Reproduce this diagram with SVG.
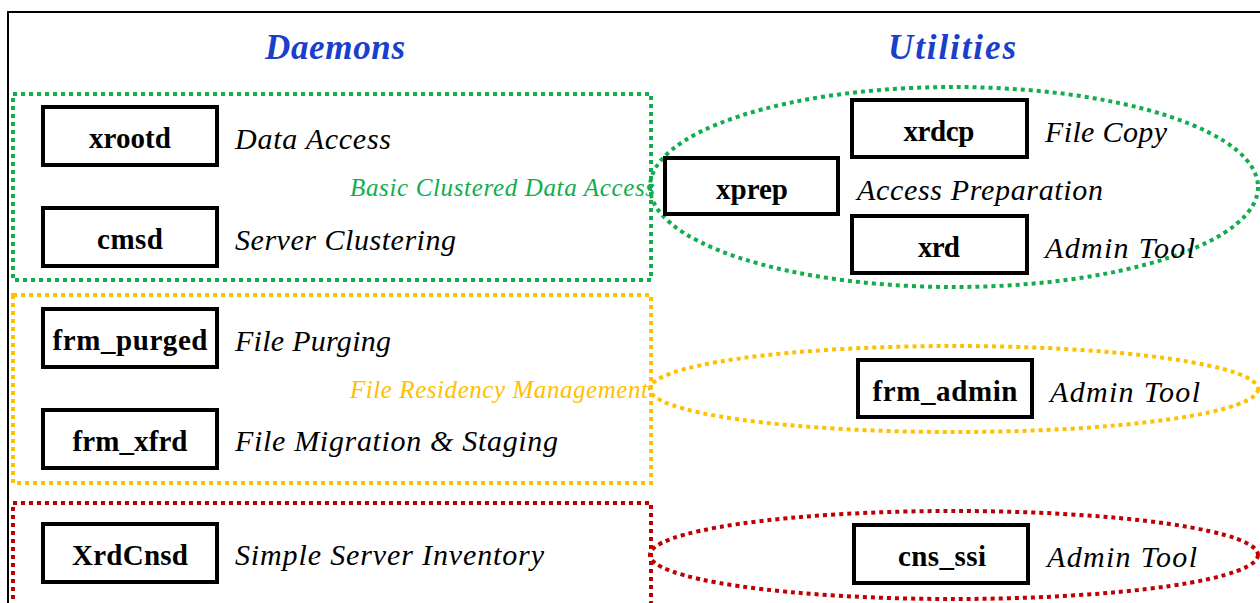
<svg xmlns="http://www.w3.org/2000/svg" width="1260" height="603" viewBox="0 0 1260 603">
<style>
.node rect{fill:#fff;stroke:#000;stroke-width:4}
.nt{font-family:"Liberation Serif",serif;font-weight:bold;font-size:29px;text-anchor:middle;fill:#000}
.lb{font-family:"Liberation Serif",serif;font-style:italic;font-size:30px;fill:#000}
.hd{font-family:"Liberation Serif",serif;font-style:italic;font-weight:bold;font-size:35px;fill:#1a3fcc;text-anchor:middle}
.grp{fill:none;stroke-width:4;stroke-dasharray:4 4}
.gl{font-family:"Liberation Serif",serif;font-style:italic;font-size:25px}
.g{stroke:#12ad4f}.y{stroke:#ffc000}.r{stroke:#c00000}
</style>
<rect width="1260" height="603" fill="#fff"/>
<path d="M8 603 V12 H1260" fill="none" stroke="#000" stroke-width="2"/>
<text class="hd" x="335" y="59" textLength="140">Daemons</text>
<text class="hd" x="952" y="59" textLength="128">Utilities</text>

<g id="groups">
<rect class="grp g" x="13" y="94" width="638" height="186"/>
<rect class="grp y" x="13" y="295" width="638" height="188"/>
<rect class="grp r" x="13" y="503" width="638" height="110"/>
<ellipse class="grp g" cx="954" cy="187" rx="304" ry="100"/>
<ellipse class="grp y" cx="954" cy="389" rx="304" ry="43"/>
<ellipse class="grp r" cx="954" cy="555" rx="304" ry="44"/>
<text class="gl" x="350" y="196" fill="#12ad4f" textLength="305">Basic Clustered Data Access</text>
<text class="gl" x="350" y="398" fill="#ffc000" textLength="298">File Residency Management</text>
</g>

<g id="xrootd" class="node"><rect x="43" y="107" width="174" height="58"/><text class="nt" x="130" y="148" textLength="82">xrootd</text></g>
<text class="lb" x="235" y="149" textLength="156">Data Access</text>
<g id="cmsd" class="node"><rect x="43" y="208" width="174" height="58"/><text class="nt" x="130" y="249" textLength="66">cmsd</text></g>
<text class="lb" x="235" y="250" textLength="221">Server Clustering</text>
<g id="frm_purged" class="node"><rect x="43" y="309" width="174" height="58"/><text class="nt" x="130" y="350" textLength="155">frm_purged</text></g>
<text class="lb" x="235" y="351" textLength="156">File Purging</text>
<g id="frm_xfrd" class="node"><rect x="43" y="410" width="174" height="58"/><text class="nt" x="130" y="451" textLength="115">frm_xfrd</text></g>
<text class="lb" x="235" y="451" textLength="323">File Migration &amp; Staging</text>
<g id="XrdCnsd" class="node"><rect x="43" y="524" width="174" height="58"/><text class="nt" x="130" y="565" textLength="116">XrdCnsd</text></g>
<text class="lb" x="235" y="565" textLength="309">Simple Server Inventory</text>

<g id="xrdcp" class="node"><rect x="852" y="100" width="175" height="57"/><text class="nt" x="939" y="141" textLength="71">xrdcp</text></g>
<text class="lb" x="1045" y="142" textLength="122">File Copy</text>
<g id="xprep" class="node"><rect x="665" y="158" width="173" height="56"/><text class="nt" x="752" y="199" textLength="72">xprep</text></g>
<text class="lb" x="857" y="200" textLength="246">Access Preparation</text>
<g id="xrd" class="node"><rect x="852" y="216" width="175" height="57"/><text class="nt" x="939" y="257" textLength="42">xrd</text></g>
<text class="lb" x="1045" y="258" textLength="150">Admin Tool</text>
<g id="frm_admin" class="node"><rect x="858" y="360" width="174" height="57"/><text class="nt" x="945" y="401" textLength="145">frm_admin</text></g>
<text class="lb" x="1050" y="402" textLength="150">Admin Tool</text>
<g id="cns_ssi" class="node"><rect x="854" y="525" width="174" height="58"/><text class="nt" x="942" y="566" textLength="88">cns_ssi</text></g>
<text class="lb" x="1047" y="567" textLength="150">Admin Tool</text>
<g id="connectors"/>
</svg>
